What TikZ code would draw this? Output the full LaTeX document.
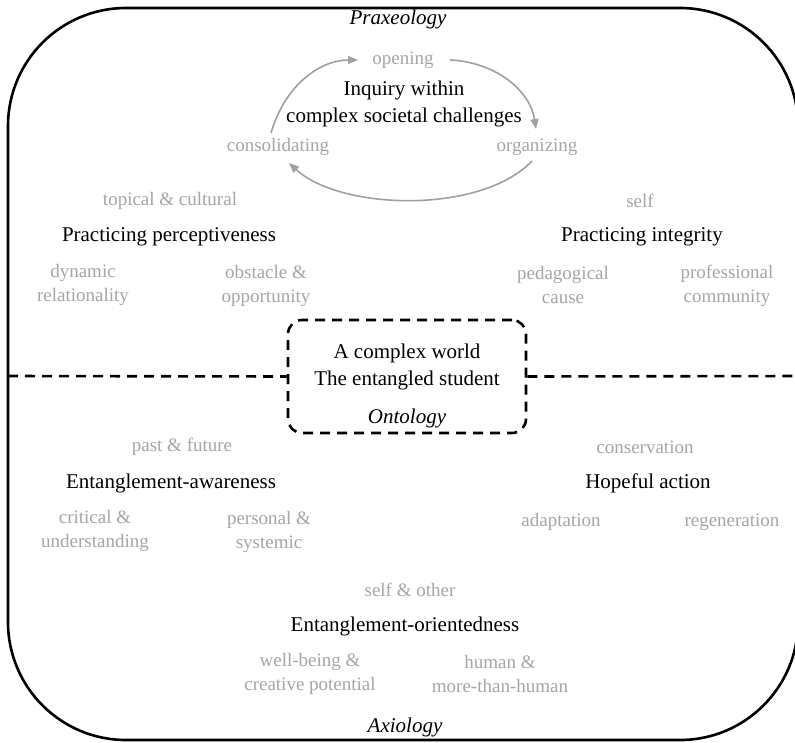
\documentclass[tikz,border=0pt]{standalone}
\usepackage{fontspec}
\setmainfont{Liberation Serif}
\usetikzlibrary{arrows.meta}
\definecolor{lightg}{HTML}{A6A6A6}
\definecolor{arrg}{HTML}{A0A0A0}
\tikzset{
  main/.style={font=\fontsize{21}{27}\selectfont, text=black, align=center, inner sep=0pt},
  sub/.style={font=\fontsize{19}{24}\selectfont, text=lightg, align=center, inner sep=0pt},
  lbl/.style={font=\fontsize{21}{24}\selectfont\itshape, text=black, inner sep=0pt},
  cyc/.style={draw=arrg, line width=1.6pt, -{Triangle[length=10pt,width=8pt]}},
  dsh/.style={line width=2.6pt, dash pattern=on 10pt off 7pt},
}
\begin{document}
\begin{tikzpicture}[x=1pt,y=-1pt]
\useasboundingbox (0,0) rectangle (795,742);
\clip (0,0) rectangle (795,742);
\fill[white] (0,0) rectangle (795,742);
% frame
\draw[line width=2.6pt, rounded corners=118pt] (8,8) rectangle (798,740);
% labels
\node[lbl] (prax) at (398,19) {Praxeology};
\node[lbl] (axio) at (405,727) {Axiology};
% inquiry cycle
\node[sub] (open) at (403,60) {opening};
\node[main] (inq) at (404,104) {Inquiry within\\complex societal challenges};
\node[sub] (cons) at (278,147) {consolidating};
\node[sub] (org) at (537,147) {organizing};
\coordinate (a1s) at (271,133);
\coordinate (a1e) at (358,60);
\coordinate (a2s) at (450,60);
\coordinate (a2e) at (536,129);
\coordinate (a3s) at (532,161);
\coordinate (a3e) at (289,163);
\draw[cyc] (a1s) .. controls (285,85) and (320,60) .. (a1e);
\draw[cyc] (a2s) .. controls (495,62) and (530,90) .. (a2e);
\draw[cyc] (a3s) .. controls (480,215) and (340,210) .. (a3e);
% practicing perceptiveness
\node[sub] (topc) at (170,201) {topical \& cultural};
\node[main] (pp) at (169,237) {Practicing perceptiveness};
\node[sub] (dyn) at (83,285) {dynamic\\relationality};
\node[sub] (obs) at (266,286) {obstacle \&\\opportunity};
% practicing integrity
\node[sub] (self) at (640,201) {self};
\node[main] (pi) at (642,237) {Practicing integrity};
\node[sub] (ped) at (563,285) {pedagogical\\cause};
\node[sub] (prof) at (727,286) {professional\\community};
% ontology box
\node[dsh, draw, rounded corners=14pt, minimum width=238pt, minimum height=113pt, inner sep=0pt] (ont) at (407,376.5) {};
\node[main] (world) at (407,367) {A complex world\\The entangled student};
\node[lbl] (onto) at (407,418) {Ontology};
\coordinate (ll) at (8,376);
\coordinate (rl) at (798,376);
\draw[dsh] (ll) -- (ont.west);
\draw[dsh] (ont.east) -- (rl);
% entanglement-awareness
\node[sub] (pf) at (182,447) {past \& future};
\node[main] (ea) at (171,483) {Entanglement-awareness};
\node[sub] (crit) at (95,531) {critical \&\\understanding};
\node[sub] (pers) at (269,532) {personal \&\\systemic};
% hopeful action
\node[sub] (conv) at (645,447) {conservation};
\node[main] (ha) at (648,483) {Hopeful action};
\node[sub] (adap) at (561,522) {adaptation};
\node[sub] (regen) at (732,522) {regeneration};
% entanglement-orientedness
\node[sub] (so) at (410,590) {self \& other};
\node[main] (eo) at (405,626) {Entanglement-orientedness};
\node[sub] (wb) at (310,674) {well-being \&\\creative potential};
\node[sub] (hum) at (500,674) {human \&\\more-than-human};
\end{tikzpicture}
\end{document}
